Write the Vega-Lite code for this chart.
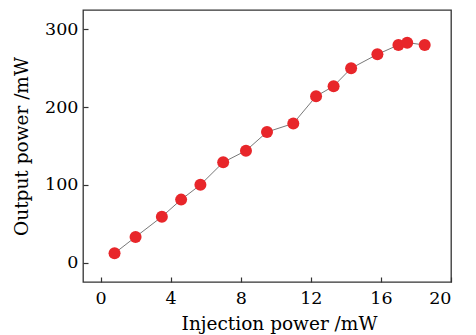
{
  "$schema": "https://vega.github.io/schema/vega-lite/v6.json",
  "width": 368,
  "height": 272,
  "autosize": {"type": "none"},
  "padding": {"left": 83, "top": 10, "right": 25, "bottom": 53},
  "background": "white",
  "config": {
    "view": {"stroke": "#333", "strokeWidth": 1.3},
    "font": "DejaVu Serif",
    "axis": {"grid": false, "domain": false, "labelFont": "DejaVu Serif", "titleFont": "DejaVu Serif", "labelFontSize": 17.5, "titleFontSize": 18.5, "titleFontWeight": "normal", "labelColor": "#000", "titleColor": "#000", "tickColor": "#333", "tickSize": -5, "tickWidth": 1.2}
  },
  "data": {"values": [
    {"inj": 0.8, "out": 12},
    {"inj": 2.0, "out": 33},
    {"inj": 3.5, "out": 59},
    {"inj": 4.6, "out": 81},
    {"inj": 5.7, "out": 100},
    {"inj": 7.0, "out": 129},
    {"inj": 8.3, "out": 144},
    {"inj": 9.5, "out": 168},
    {"inj": 11.0, "out": 179},
    {"inj": 12.3, "out": 214},
    {"inj": 13.3, "out": 227},
    {"inj": 14.3, "out": 250},
    {"inj": 15.8, "out": 268},
    {"inj": 17.0, "out": 280},
    {"inj": 17.5, "out": 283},
    {"inj": 18.5, "out": 280}
  ]},
  "encoding": {
    "x": {"field": "inj", "type": "quantitative", "scale": {"domain": [-1, 20], "nice": false, "zero": false}, "axis": {"values": [0, 4, 8, 12, 16, 20], "title": "Injection power /mW", "labelPadding": 12, "titlePadding": 8, "titleX": 196}},
    "y": {"field": "out", "type": "quantitative", "scale": {"domain": [-25, 325], "nice": false, "zero": false}, "axis": {"values": [0, 100, 200, 300], "title": "Output power /mW", "labelPadding": 10, "titlePadding": 13}}
  },
  "layer": [
    {"mark": {"type": "line", "color": "#555", "strokeWidth": 0.8}},
    {"mark": {"type": "point", "shape": "circle", "filled": true, "size": 144, "color": "#e8262a", "opacity": 1}}
  ]
}
